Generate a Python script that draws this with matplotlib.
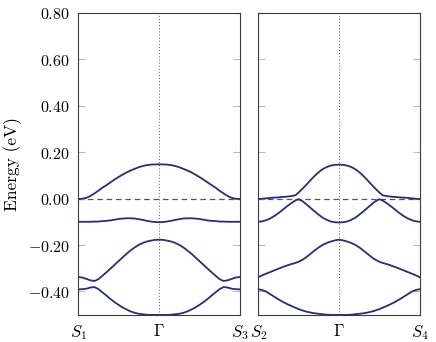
import matplotlib
matplotlib.use("Agg")
import matplotlib.pyplot as plt

plt.rcParams['mathtext.fontset'] = 'cm'
plt.rcParams['font.family'] = ['DejaVu Serif']

# ---- data ----
k_left = [0.00, 0.05, 0.10, 0.15, 0.20, 0.25, 0.30, 0.35, 0.40, 0.45, 0.50,
          0.55, 0.60, 0.65, 0.70, 0.75, 0.80, 0.85, 0.90, 0.95, 1.00,
          1.05, 1.10, 1.15, 1.20, 1.25, 1.30, 1.35, 1.40, 1.45, 1.50,
          1.55, 1.60, 1.65, 1.70, 1.75, 1.80, 1.85, 1.90, 1.95, 2.00]
left_band1 = [-0.002, -0.001, 0.003, 0.011, 0.022, 0.034, 0.047, 0.058, 0.070, 0.082, 0.093,
              0.103, 0.113, 0.121, 0.128, 0.135, 0.140, 0.144, 0.146, 0.147, 0.147,
              0.147, 0.146, 0.144, 0.140, 0.135, 0.128, 0.121, 0.113, 0.103, 0.093,
              0.082, 0.070, 0.058, 0.047, 0.034, 0.022, 0.011, 0.003, -0.001, -0.002]
left_band2 = [-0.100, -0.100, -0.100, -0.100, -0.099, -0.099, -0.097, -0.096, -0.094, -0.091, -0.088,
              -0.086, -0.085, -0.085, -0.086, -0.089, -0.092, -0.096, -0.099, -0.101, -0.102,
              -0.101, -0.099, -0.096, -0.092, -0.089, -0.086, -0.085, -0.085, -0.086, -0.088,
              -0.091, -0.094, -0.096, -0.097, -0.099, -0.099, -0.100, -0.100, -0.100, -0.100]
left_band3 = [-0.338, -0.340, -0.346, -0.352, -0.355, -0.347, -0.332, -0.317, -0.301, -0.285, -0.269,
              -0.253, -0.237, -0.223, -0.210, -0.199, -0.191, -0.185, -0.181, -0.178, -0.177,
              -0.178, -0.181, -0.185, -0.191, -0.199, -0.210, -0.223, -0.237, -0.253, -0.269,
              -0.285, -0.301, -0.317, -0.332, -0.347, -0.355, -0.352, -0.346, -0.340, -0.338]
left_band4 = [-0.391, -0.390, -0.388, -0.383, -0.381, -0.390, -0.404, -0.418, -0.433, -0.446, -0.458,
              -0.469, -0.478, -0.486, -0.492, -0.496, -0.498, -0.500, -0.501, -0.501, -0.501,
              -0.501, -0.501, -0.500, -0.498, -0.496, -0.492, -0.486, -0.478, -0.469, -0.458,
              -0.446, -0.433, -0.418, -0.404, -0.390, -0.381, -0.383, -0.388, -0.390, -0.391]

k_right = [0.00, 0.05, 0.10, 0.15, 0.20, 0.25, 0.30, 0.35, 0.40, 0.46, 0.50,
           0.55, 0.60, 0.65, 0.70, 0.75, 0.80, 0.85, 0.90, 0.95, 1.00,
           1.05, 1.10, 1.15, 1.20, 1.25, 1.30, 1.35, 1.40, 1.45, 1.50,
           1.54, 1.60, 1.65, 1.70, 1.75, 1.80, 1.85, 1.90, 1.95, 2.00]
right_band1 = [-0.002, -0.001, 0.001, 0.003, 0.004, 0.005, 0.007, 0.008, 0.010, 0.014, 0.026,
               0.043, 0.061, 0.080, 0.098, 0.114, 0.127, 0.136, 0.142, 0.145, 0.146,
               0.145, 0.142, 0.136, 0.127, 0.114, 0.098, 0.080, 0.061, 0.043, 0.026,
               0.014, 0.010, 0.008, 0.007, 0.005, 0.004, 0.003, 0.001, -0.001, -0.002]
right_band2 = [-0.100, -0.098, -0.093, -0.085, -0.075, -0.063, -0.049, -0.035, -0.022, -0.008, -0.003,
               -0.012, -0.026, -0.041, -0.056, -0.070, -0.083, -0.092, -0.099, -0.102, -0.103,
               -0.102, -0.099, -0.092, -0.083, -0.070, -0.056, -0.041, -0.026, -0.012, -0.003,
               -0.008, -0.022, -0.035, -0.049, -0.063, -0.075, -0.085, -0.093, -0.098, -0.100]
right_band3 = [-0.339, -0.330, -0.323, -0.316, -0.309, -0.302, -0.295, -0.289, -0.283, -0.277, -0.272,
               -0.263, -0.251, -0.237, -0.223, -0.210, -0.199, -0.191, -0.185, -0.180, -0.177,
               -0.180, -0.185, -0.191, -0.199, -0.210, -0.223, -0.237, -0.251, -0.263, -0.272,
               -0.277, -0.283, -0.289, -0.295, -0.302, -0.309, -0.316, -0.323, -0.330, -0.339]
right_band4 = [-0.390, -0.394, -0.401, -0.412, -0.423, -0.434, -0.444, -0.453, -0.461, -0.470, -0.476,
               -0.482, -0.487, -0.491, -0.494, -0.496, -0.498, -0.500, -0.501, -0.501, -0.501,
               -0.501, -0.501, -0.500, -0.498, -0.496, -0.494, -0.491, -0.487, -0.482, -0.476,
               -0.470, -0.461, -0.453, -0.444, -0.434, -0.423, -0.412, -0.401, -0.394, -0.390]

y_ticks = [-0.40, -0.20, 0.00, 0.20, 0.40, 0.60, 0.80]
y_ticklabels = [r'$-0.40$', r'$-0.20$', r'$0.00$', r'$0.20$', r'$0.40$', r'$0.60$', r'$0.80$']
left_xticklabels = [r'$S_1$', r'$\Gamma$', r'$S_3$']
right_xticklabels = [r'$S_2$', r'$\Gamma$', r'$S_4$']
x_ticks = [0.0, 1.0, 2.0]

line_color = '#2b2b80'

fig = plt.figure(figsize=(4.36, 3.42), dpi=100)
ax1 = fig.add_axes([0.1796, 0.0798, 0.3702, 0.8831])
ax2 = fig.add_axes([0.5924, 0.0798, 0.3702, 0.8831])

panels = [
    (ax1, k_left, [left_band1, left_band2, left_band3, left_band4], left_xticklabels),
    (ax2, k_right, [right_band1, right_band2, right_band3, right_band4], right_xticklabels),
]

for ax, k, bands, xlabels in panels:
    ax.axvline(1.0, color='#555555', lw=0.7, ls=(0, (1, 2.2)), zorder=1)
    ax.axhline(0.0, color='#555555', lw=0.9, ls=(0, (4.5, 3)), zorder=1)
    for b in bands:
        ax.plot(k, b, color=line_color, lw=1.3, zorder=3,
                solid_capstyle='round', solid_joinstyle='round')
    ax.set_xlim(0, 2)
    ax.set_ylim(-0.5, 0.8)
    ax.set_xticks(x_ticks)
    ax.set_xticklabels(xlabels, fontsize=12)
    ax.tick_params(axis='x', length=0, pad=6)
    ax.set_yticks(y_ticks)
    ax.tick_params(axis='y', direction='in', length=5, width=0.8, color='#bbbbbb',
                   left=True, right=True)
    for s in ax.spines.values():
        s.set_color('#3a3a3a')
        s.set_linewidth(0.8)

ax1.set_yticklabels(y_ticklabels, fontsize=11.5)
ax1.tick_params(axis='y', pad=6)
ax2.set_yticklabels([])
ax1.set_ylabel('Energy (eV)', fontsize=12.5, family='cmr10', labelpad=4)

fig.savefig('out.png', dpi=100)
